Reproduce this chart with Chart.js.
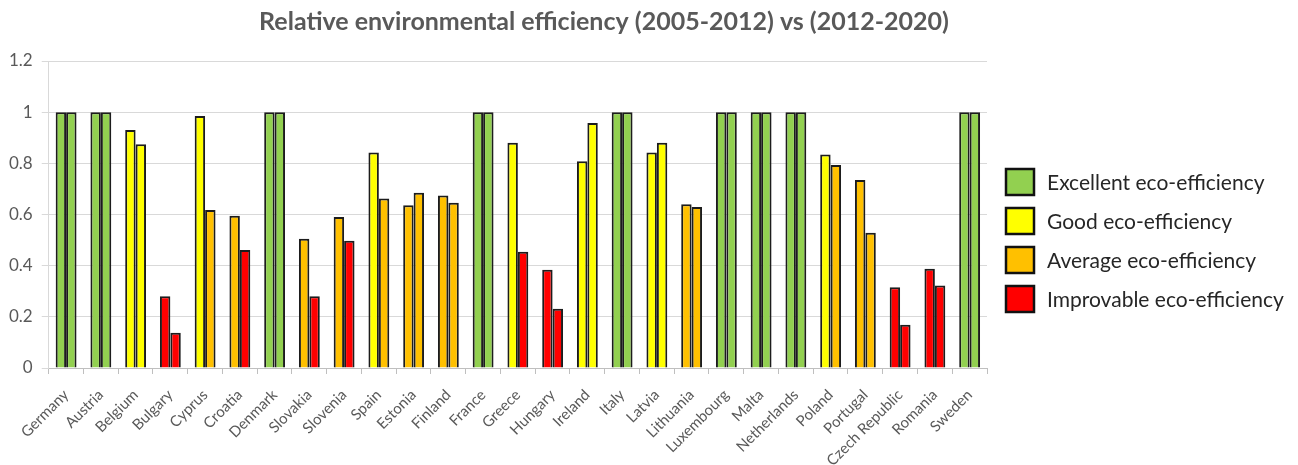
<!DOCTYPE html>
<html>
<head>
<meta charset="utf-8">
<title>Relative environmental efficiency</title>
<script src="https://cdn.jsdelivr.net/npm/chart.js@4.4.1/dist/chart.umd.min.js"></script>
<style>
  html, body { margin: 0; padding: 0; background: #ffffff; }
  #wrap { width: 1298px; height: 465px; }
</style>
</head>
<body>
<div id="wrap"><canvas id="chart" width="1298" height="465"></canvas></div>
<script>
// Countries on the category axis
const countries = [
  'Germany', 'Austria', 'Belgium', 'Bulgary', 'Cyprus', 'Croatia', 'Denmark',
  'Slovakia', 'Slovenia', 'Spain', 'Estonia', 'Finland', 'France', 'Greece',
  'Hungary', 'Ireland', 'Italy', 'Latvia', 'Lithuania', 'Luxembourg', 'Malta',
  'Netherlands', 'Poland', 'Portugal', 'Czech Republic', 'Romania', 'Sweden'
];

// Relative efficiency scores per period
const eff2005_2012 = [
  1, 1, 0.93, 0.28, 0.985, 0.595, 1,
  0.505, 0.59, 0.842, 0.636, 0.674, 1, 0.88,
  0.384, 0.808, 1, 0.842, 0.64, 1, 1,
  1, 0.835, 0.735, 0.316, 0.388, 1
];
const eff2012_2020 = [
  1, 1, 0.875, 0.138, 0.618, 0.461, 1,
  0.28, 0.497, 0.663, 0.685, 0.646, 1, 0.454,
  0.232, 0.958, 1, 0.88, 0.629, 1, 1,
  1, 0.793, 0.529, 0.169, 0.322, 1
];

// Eco-efficiency class of each bar: E excellent, G good, A average, I improvable
const class2005_2012 = [
  'E', 'E', 'G', 'I', 'G', 'A', 'E',
  'A', 'A', 'G', 'A', 'A', 'E', 'G',
  'I', 'G', 'E', 'G', 'A', 'E', 'E',
  'E', 'G', 'A', 'I', 'I', 'E'
];
const class2012_2020 = [
  'E', 'E', 'G', 'I', 'A', 'I', 'E',
  'I', 'I', 'A', 'A', 'A', 'E', 'I',
  'I', 'G', 'E', 'G', 'A', 'E', 'E',
  'E', 'A', 'A', 'I', 'I', 'E'
];

// Legend entries and value-axis ticks
const classCodes = ['E', 'G', 'A', 'I'];
const classNames = [
  'Excellent eco-efficiency', 'Good eco-efficiency',
  'Average eco-efficiency', 'Improvable eco-efficiency'
];
const yTicks = [0, 0.2, 0.4, 0.6, 0.8, 1, 1.2];

const chartTitle = 'Relative environmental efficiency (2005-2012) vs (2012-2020)';

const classColor = { E: '#92D050', G: '#FFFF00', A: '#FFC000', I: '#FF0000' };
const FONT = 'Lato, "Open Sans", "DejaVu Sans", sans-serif';

// Title and class legend painted on the canvas
const decorations = {
  id: 'decorations',
  afterDraw(chart) {
    const ctx = chart.ctx;
    ctx.save();
    ctx.fillStyle = '#595959';
    ctx.font = 'bold 25px ' + FONT;
    ctx.textAlign = 'center';
    ctx.textBaseline = 'middle';
    ctx.fillText(chartTitle, 604, 22);

    const boxX = 1006, boxW = 28, boxH = 26, top0 = 169, step = 39;
    ctx.font = '21px ' + FONT;
    ctx.textAlign = 'left';
    classCodes.forEach((code, i) => {
      const y = top0 + i * step;
      ctx.fillStyle = classColor[code];
      ctx.fillRect(boxX, y, boxW, boxH);
      ctx.lineWidth = 2.5;
      ctx.strokeStyle = '#111111';
      ctx.strokeRect(boxX, y, boxW, boxH);
      ctx.fillStyle = '#262626';
      ctx.fillText(classNames[i], 1047, y + boxH / 2 + 1);
    });
    ctx.restore();
  }
};

new Chart(document.getElementById('chart'), {
  type: 'bar',
  data: {
    labels: countries,
    datasets: [
      {
        label: '2005-2012',
        data: eff2005_2012,
        backgroundColor: class2005_2012.map(c => classColor[c]),
        borderColor: '#1c1c1c',
        borderWidth: 2
      },
      {
        label: '2012-2020',
        data: eff2012_2020,
        backgroundColor: class2012_2020.map(c => classColor[c]),
        borderColor: '#1c1c1c',
        borderWidth: 2
      }
    ]
  },
  options: {
    responsive: false,
    animation: false,
    layout: { padding: { top: 61, left: 0, right: 311, bottom: 0 } },
    datasets: { bar: { categoryPercentage: 0.6, barPercentage: 1.0 } },
    plugins: {
      legend: { display: false },
      title: { display: false },
      tooltip: { enabled: false }
    },
    scales: {
      x: {
        afterFit(scale) { scale.height = 97; },
        grid: {
          offset: true,
          drawOnChartArea: false,
          drawTicks: true,
          tickLength: 6,
          color: '#bfbfbf'
        },
        border: { color: '#bfbfbf' },
        ticks: {
          autoSkip: false,
          minRotation: 45,
          maxRotation: 45,
          padding: 12,
          color: '#595959',
          font: { family: FONT, size: 15 }
        }
      },
      y: {
        min: 0,
        max: 1.2,
        afterBuildTicks(scale) {
          scale.ticks = yTicks.map(v => ({ value: v }));
        },
        grid: { color: '#d9d9d9', tickLength: 7 },
        border: { color: '#d9d9d9' },
        ticks: {
          padding: 9,
          color: '#595959',
          font: { family: FONT, size: 17 },
          callback: v => String(v)
        }
      }
    }
  },
  plugins: [decorations]
});
</script>
</body>
</html>
